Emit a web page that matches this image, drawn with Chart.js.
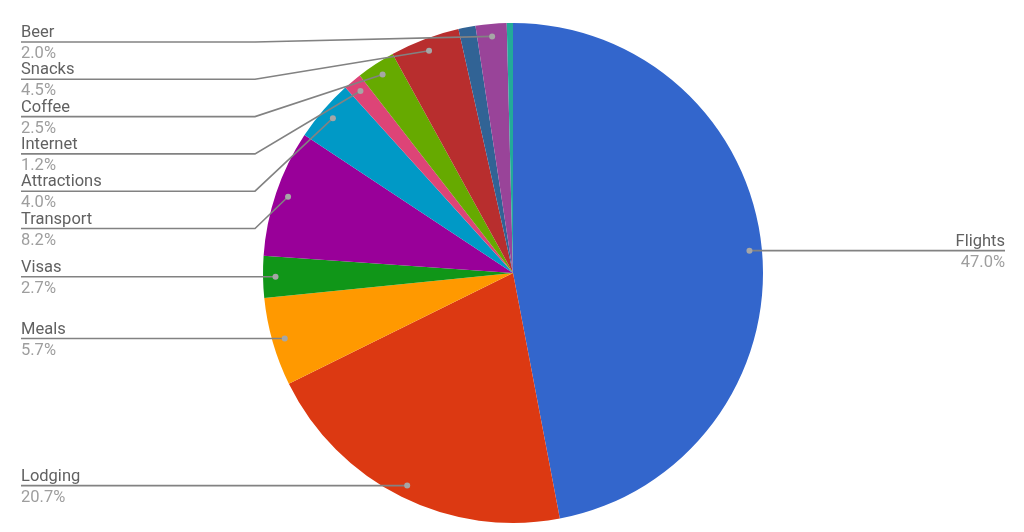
<!DOCTYPE html>
<html>
<head>
<meta charset="utf-8">
<script src="https://cdn.jsdelivr.net/npm/chart.js@4"></script>
<style>
  html, body { margin: 0; padding: 0; background: #fff; }
  #wrap { width: 1024px; height: 532px; position: relative; }
</style>
</head>
<body>
<div id="wrap"><canvas id="pie" width="1024" height="532"></canvas></div>
<script>
// Trip budget breakdown (percent of total)
// two thin slices carry no label in the chart, so their names are left empty
const categories = ['Flights', 'Lodging', 'Meals', 'Visas', 'Transport', 'Attractions',
  'Internet', 'Coffee', 'Snacks', '', 'Beer', ''];
const values = [47.0, 20.7, 5.7, 2.7, 8.2, 4.0, 1.2, 2.5, 4.5, 1.1, 2.0, 0.4];
const colors = ['#3366cc', '#dc3912', '#ff9900', '#109618', '#990099', '#0099c6',
  '#dd4477', '#66aa00', '#b82e2e', '#316395', '#994499', '#22aa99'];

const FONT = '16.5px Roboto';
const LEFT_X = 21;
const RIGHT_X = 1005;
const ELBOW_X = 255;
const ROW_GAP = 37.3;
const TOP_MIN = 42;

// leader lines + labels, Google Sheets style
const sideLabels = {
  id: 'sideLabels',
  afterDraw(chart) {
    const ctx = chart.ctx;
    const meta = chart.getDatasetMeta(0);
    const total = values.reduce((a, b) => a + b, 0);
    const items = [];

    meta.data.forEach((arc, i) => {
      if (!categories[i]) return;
      const p = arc.getProps(['x', 'y', 'startAngle', 'endAngle', 'outerRadius'], true);
      const mid = (p.startAngle + p.endAngle) / 2;
      const r = p.outerRadius * 0.95;
      items.push({
        name: categories[i],
        pct: (values[i] / total * 100).toFixed(1) + '%',
        dx: p.x + Math.cos(mid) * r,
        dy: p.y + Math.sin(mid) * r,
        side: Math.cos(mid) >= 0 ? 'right' : 'left'
      });
    });

    // stack left-hand labels so they don't overlap
    const left = items.filter(d => d.side === 'left').sort((a, b) => a.dy - b.dy);
    let prev = -Infinity;
    left.forEach(d => {
      d.ly = Math.max(d.dy, prev + ROW_GAP, TOP_MIN);
      prev = d.ly;
    });
    items.filter(d => d.side === 'right').forEach(d => { d.ly = d.dy; });

    ctx.save();
    ctx.font = FONT;
    items.forEach(d => {
      // line
      ctx.strokeStyle = '#828282';
      ctx.lineWidth = 1.6;
      ctx.beginPath();
      if (d.side === 'left') {
        ctx.moveTo(LEFT_X, d.ly);
        if (Math.abs(d.ly - d.dy) > 1) {
          ctx.lineTo(ELBOW_X, d.ly);
        }
        ctx.lineTo(d.dx, d.dy);
      } else {
        ctx.moveTo(RIGHT_X, d.ly);
        ctx.lineTo(d.dx, d.dy);
      }
      ctx.stroke();

      // dot on the slice
      ctx.fillStyle = '#a6a6a6';
      ctx.beginPath();
      ctx.arc(d.dx, d.dy, 3, 0, Math.PI * 2);
      ctx.fill();

      // text
      const tx = d.side === 'left' ? LEFT_X : RIGHT_X;
      ctx.textAlign = d.side === 'left' ? 'left' : 'right';
      ctx.textBaseline = 'alphabetic';
      ctx.fillStyle = '#616161';
      ctx.fillText(d.name, tx, d.ly - 5);
      ctx.fillStyle = '#9e9e9e';
      ctx.fillText(d.pct, tx, d.ly + 16);
    });
    ctx.restore();
  }
};

new Chart(document.getElementById('pie'), {
  type: 'pie',
  data: {
    labels: categories,
    datasets: [{
      data: values,
      backgroundColor: colors,
      borderWidth: 0
    }]
  },
  options: {
    responsive: false,
    animation: false,
    layout: { padding: { left: 263, right: 261, top: 23, bottom: 9 } },
    plugins: {
      legend: { display: false },
      tooltip: { enabled: false }
    }
  },
  plugins: [sideLabels]
});
</script>
</body>
</html>
